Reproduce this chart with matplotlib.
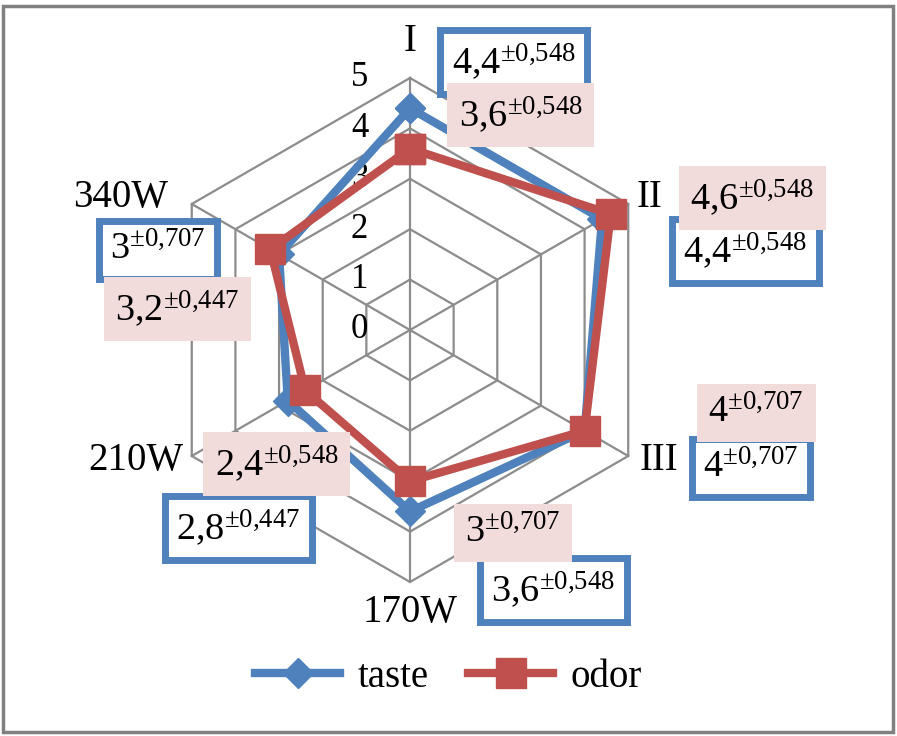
import numpy as np
import matplotlib
matplotlib.use("Agg")
import matplotlib.pyplot as plt
from matplotlib.patches import Rectangle

plt.rcParams["font.family"] = "Liberation Serif"
plt.rcParams["mathtext.fontset"] = "custom"
plt.rcParams["mathtext.rm"] = "Liberation Serif"

# data
categories = ["I", "II", "III", "170W", "210W", "340W"]
taste = [4.4, 4.4, 4.0, 3.6, 2.8, 3.0]
odor = [3.6, 4.6, 4.0, 3.0, 2.4, 3.2]
taste_sd = ["0,548", "0,548", "0,707", "0,548", "0,447", "0,707"]
odor_sd = ["0,548", "0,548", "0,707", "0,707", "0,548", "0,447"]
levels = [0, 1, 2, 3, 4, 5]

# label box centres (data units)
taste_pos = [(2.06, 5.32), (6.65, 1.57), (6.77, -2.74), (2.84, -5.16), (-3.41, -3.93), (-5.0, 1.59)]
odor_pos = [(2.20, 4.27), (6.79, 2.62), (6.87, -1.65), (2.04, -4.03), (-2.64, -2.66), (-4.62, 0.42)]
cat_pos = [(0, 5.72), (4.76, 2.62), (4.94, -2.58), (0, -5.6), (-5.45, -2.58), (-5.75, 2.62)]

BLUE = "#4f81bd"
RED = "#c0504d"
PINK = "#f2dcdb"
GRID = "#8c8c8c"

n = len(categories)
theta = np.deg2rad(90 - 60 * np.arange(n))


def xy(vals):
    vals = np.asarray(vals, dtype=float)
    x = vals * np.cos(theta)
    y = vals * np.sin(theta)
    return np.append(x, x[0]), np.append(y, y[0])


def fmt(v, sd):
    s = ("%g" % v).replace(".", "{,}")
    return r"$\mathregular{%s^{\pm %s}}$" % (s, sd.replace(",", "{,}"))


fig = plt.figure(figsize=(8.97, 7.36), dpi=100)
ax = fig.add_axes([0, 0, 1, 1])
ax.set_xlim(-410 / 50.4, 487 / 50.4)
ax.set_ylim((330 - 736) / 50.4, 330 / 50.4)
ax.axis("off")

# hexagon grid and spokes
for lv in levels[1:]:
    gx, gy = xy([lv] * n)
    ax.plot(gx, gy, color=GRID, lw=1.6, zorder=1)
for t in theta:
    ax.plot([0, 5 * np.cos(t)], [0, 5 * np.sin(t)], color=GRID, lw=1.6, zorder=1)

for lv in levels:
    ax.text(-1.0, lv, str(lv), fontsize=25, ha="center", va="center")

for c, (px, py) in zip(categories, cat_pos):
    ax.text(px, py, c, fontsize=28, ha="center", va="center")

tx, ty = xy(taste)
ox, oy = xy(odor)
ax.plot(tx, ty, color=BLUE, lw=6, marker="D", ms=15, solid_joinstyle="miter", zorder=3, label="taste")
ax.plot(ox, oy, color=RED, lw=6, marker="s", ms=22, solid_joinstyle="miter", zorder=4, label="odor")

for v, sd, (px, py) in zip(taste, taste_sd, taste_pos):
    ax.text(px, py, fmt(v, sd), fontsize=27.5, ha="center", va="center", zorder=5,
            bbox=dict(boxstyle="square,pad=0.3", fc="white", ec=BLUE, lw=5))
for v, sd, (px, py) in zip(odor, odor_sd, odor_pos):
    ax.text(px, py, fmt(v, sd), fontsize=27.5, ha="center", va="center", zorder=6,
            bbox=dict(boxstyle="square,pad=0.3", fc=PINK, ec="none"))

leg = ax.legend(loc="center", bbox_to_anchor=(0.5, 0.08), ncol=2, frameon=False,
                fontsize=28, handlelength=2.2, handletextpad=0.45, columnspacing=1.0)

# outer border
fig.patches.append(Rectangle((3 / 897, 4 / 736), 890 / 897, 726 / 736, transform=fig.transFigure,
                             fill=False, ec="#808080", lw=2.5))

fig.savefig("out.png", dpi=100)
